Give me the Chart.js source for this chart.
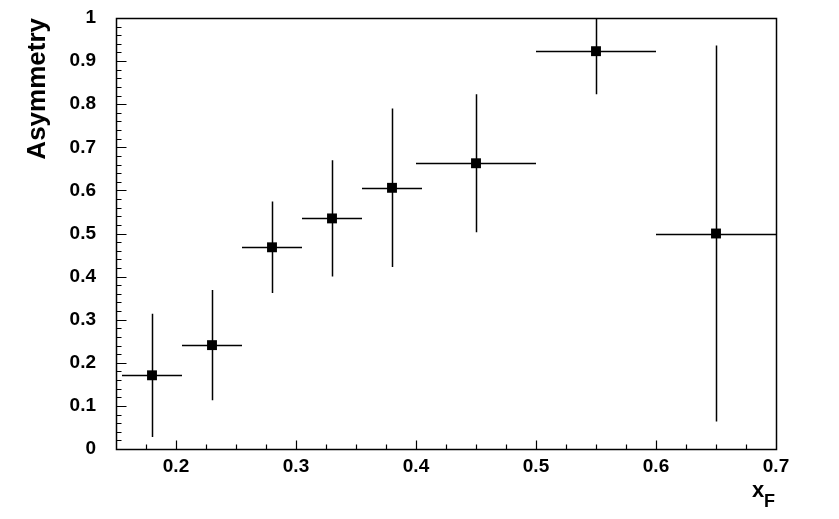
<!DOCTYPE html>
<html>
<head>
<meta charset="utf-8">
<title>Asymmetry vs xF</title>
<script src="https://cdn.jsdelivr.net/npm/chart.js@4/dist/chart.umd.min.js"></script>
<style>
  html, body { margin: 0; padding: 0; background: #fff; }
  #wrap { width: 839px; height: 519px; }
</style>
</head>
<body>
<div id="wrap"><canvas id="asymChart" width="839" height="519"></canvas></div>
<script>
// data points
const xValues = [0.18, 0.23, 0.28, 0.33, 0.38, 0.45, 0.55, 0.65];
const yValues = [0.171, 0.241, 0.468, 0.535, 0.606, 0.663, 0.923, 0.500];
const xErrors = [0.025, 0.025, 0.025, 0.025, 0.025, 0.05, 0.05, 0.05];
const yErrors = [0.143, 0.128, 0.106, 0.135, 0.184, 0.160, 0.100, 0.436];

// axis ticks
const xTickValues = [0.2, 0.3, 0.4, 0.5, 0.6, 0.7];
const yTickValues = [0, 0.1, 0.2, 0.3, 0.4, 0.5, 0.6, 0.7, 0.8, 0.9, 1];
const xMinorStep = 0.025;
const yMinorStep = 0.02;

const labelFont = "'Liberation Sans', Arial, Helvetica, sans-serif";

const points = xValues.map((v, i) => ({ x: v, y: yValues[i] }));

// frame, inward ticks, error bars and the x title (ROOT style)
const rootStyle = {
  id: "rootStyle",
  beforeDatasetsDraw(chart) {
    const { ctx, chartArea: a, scales } = chart;
    const x = scales.x;
    const y = scales.y;
    ctx.save();
    ctx.beginPath();
    ctx.rect(a.left, a.top, a.right - a.left, a.bottom - a.top);
    ctx.clip();
    ctx.strokeStyle = "#000";
    ctx.lineWidth = 1.5;
    for (let i = 0; i < xValues.length; i++) {
      const px = Math.round(x.getPixelForValue(xValues[i])) + 0.5;
      const py = Math.round(y.getPixelForValue(yValues[i])) + 0.5;
      ctx.beginPath();
      ctx.moveTo(x.getPixelForValue(xValues[i] - xErrors[i]), py);
      ctx.lineTo(x.getPixelForValue(xValues[i] + xErrors[i]), py);
      ctx.moveTo(px, y.getPixelForValue(yValues[i] - yErrors[i]));
      ctx.lineTo(px, y.getPixelForValue(yValues[i] + yErrors[i]));
      ctx.stroke();
    }
    ctx.restore();
  },
  afterDraw(chart) {
    const { ctx, chartArea: a, scales } = chart;
    const x = scales.x;
    const y = scales.y;
    const l = Math.round(a.left) + 0.5;
    const r = Math.round(a.right) + 0.5;
    const t = Math.round(a.top) + 0.5;
    const b = Math.round(a.bottom) + 0.5;
    ctx.save();
    ctx.strokeStyle = "#000";
    ctx.lineWidth = 1.5;
    ctx.strokeRect(l, t, r - l, b - t);

    ctx.lineWidth = 1.2;
    ctx.beginPath();
    // y ticks, pointing into the frame
    const nY = Math.round((y.max - y.min) / yMinorStep);
    for (let k = 1; k < nY; k++) {
      const v = y.min + k * yMinorStep;
      const py = Math.round(y.getPixelForValue(v)) + 0.5;
      const major = k % 5 === 0;
      ctx.moveTo(l, py);
      ctx.lineTo(l + (major ? 10 : 5), py);
    }
    // x ticks
    const nX = Math.round((x.max - x.min) / xMinorStep);
    for (let k = 1; k < nX; k++) {
      const v = x.min + k * xMinorStep;
      const px = Math.round(x.getPixelForValue(v)) + 0.5;
      const major = (k - 2) % 4 === 0;
      ctx.moveTo(px, b);
      ctx.lineTo(px, b - (major ? 9 : 5));
    }
    ctx.stroke();

    // x axis title with subscript
    ctx.fillStyle = "#000";
    ctx.textAlign = "left";
    ctx.textBaseline = "alphabetic";
    ctx.font = "bold 22px " + labelFont;
    ctx.fillText("x", 752, 497);
    ctx.font = "bold 18px " + labelFont;
    ctx.fillText("F", 764, 507);
    ctx.restore();
  }
};

new Chart("asymChart", {
  type: "scatter",
  data: {
    datasets: [
      {
        label: "Asymmetry",
        data: points,
        pointStyle: "rect",
        pointRadius: 7,
        pointHoverRadius: 7,
        backgroundColor: "#000",
        borderColor: "#000",
        borderWidth: 0,
      },
    ],
  },
  options: {
    responsive: false,
    animation: false,
    devicePixelRatio: 1,
    layout: { autoPadding: false, padding: { top: 18, right: 63, left: 0, bottom: 0 } },
    plugins: {
      legend: { display: false },
      tooltip: { enabled: false },
    },
    scales: {
      x: {
        type: "linear",
        min: 0.15,
        max: 0.7,
        grid: { display: false, drawTicks: false },
        border: { display: false },
        afterBuildTicks: (scale) => {
          scale.ticks = xTickValues.map((v) => ({ value: v }));
        },
        afterFit: (scale) => {
          scale.height = 70;
        },
        ticks: {
          padding: 6,
          color: "#000",
          maxRotation: 0,
          font: { family: labelFont, size: 19, weight: "bold" },
          callback: (v) => String(Math.round(v * 10) / 10),
        },
      },
      y: {
        type: "linear",
        min: 0,
        max: 1,
        grid: { display: false, drawTicks: false },
        border: { display: false },
        afterBuildTicks: (scale) => {
          scale.ticks = yTickValues.map((v) => ({ value: v }));
        },
        afterFit: (scale) => {
          scale.width = 116;
          // the label gap must not push the frame down
          scale.paddingTop = 0;
          scale.paddingBottom = 0;
        },
        ticks: {
          padding: 20,
          color: "#000",
          font: { family: labelFont, size: 19, weight: "bold" },
          callback: (v) => String(Math.round(v * 10) / 10),
        },
        title: {
          display: true,
          text: "Asymmetry",
          align: "end",
          color: "#000",
          padding: { top: 22, bottom: 0 },
          font: { family: labelFont, size: 26, weight: "bold" },
        },
      },
    },
  },
  plugins: [rootStyle],
});
</script>
</body>
</html>
